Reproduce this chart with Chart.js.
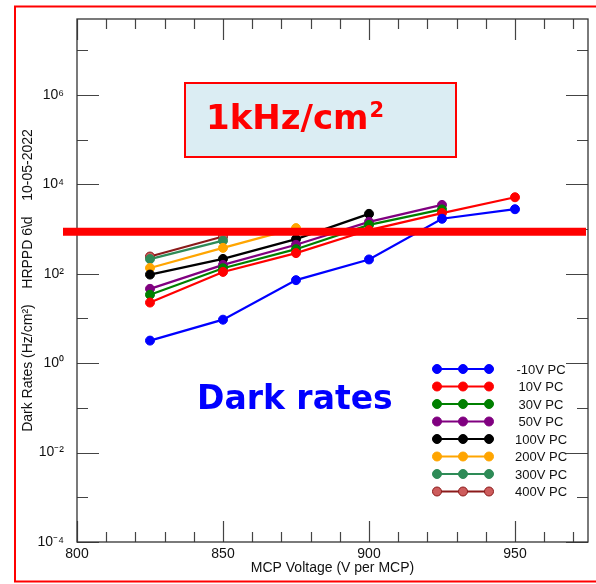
<!DOCTYPE html>
<html>
<head>
<meta charset="utf-8">
<script src="https://cdn.jsdelivr.net/npm/chart.js@4.4.0/dist/chart.umd.min.js"></script>
<style>
  html, body { margin: 0; padding: 0; background: #fff; }
  canvas { display: block; }
</style>
</head>
<body>
<canvas id="chart" width="596" height="584"></canvas>
<script>
// MCP voltage steps (V per MCP)
const voltages = [825, 850, 875, 900, 925, 950];

// Dark rates (Hz/cm2) per photocathode bias
const seriesLabels = ['-10V PC', '10V PC', '30V PC', '50V PC', '100V PC', '200V PC', '300V PC', '400V PC'];
const rateM10 = [3.2, 9.4, 72, 209, 1700, 2780];
const rate10 = [22.7, 110, 290, 950, 2280, 5150];
const rate30 = [34, 133, 355, 1240, 2750];
const rate50 = [46, 158, 445, 1450, 3470];
const rate100 = [96, 215, 595, 2190];
const rate200 = [135, 380, 1050];
const rate300 = [213, 550];
const rate400 = [243, 680];
const seriesValues = [rateM10, rate10, rate30, rate50, rate100, rate200, rate300, rate400];

// axis ticks
const xTickValues = [800, 810, 820, 830, 840, 850, 860, 870, 880, 890, 900, 910, 920, 930, 940, 950, 960, 970];
const yTickExponents = [-4, -3, -2, -1, 0, 1, 2, 3, 4, 5, 6, 7];

// the 1 kHz/cm2 marker line, as drawn on the slide
const thresholdRate = 870;

// styles
const lineColors = ['#0000ff', '#ff0000', '#008000', '#800080', '#000000', '#ffa500', '#2e8b57', '#8b1a1a'];
const pointFills = ['#0000ff', '#ff0000', '#008000', '#800080', '#000000', '#ffa500', '#2e8b57', '#cd5c5c'];

const SUP = { '-': '\u207B', '0': '\u2070', '1': '\u00B9', '2': '\u00B2', '3': '\u00B3', '4': '\u2074',
              '5': '\u2075', '6': '\u2076', '7': '\u2077', '8': '\u2078', '9': '\u2079' };
const sup = s => String(s).split('').map(c => SUP[c]).join('');

const datasets = seriesLabels.map((label, k) => ({
    label: label,
    data: seriesValues[k].map((y, i) => ({ x: voltages[i], y: y })),
    borderColor: lineColors[k],
    backgroundColor: pointFills[k],
    pointBackgroundColor: pointFills[k],
    pointBorderColor: lineColors[k],
    pointBorderWidth: 1,
    pointRadius: 4.5,
    borderWidth: 2.2,
    tension: 0
}));

const decorations = {
    id: 'decorations',
    beforeDatasetsDraw(chart) {
        const { ctx, chartArea: a, scales: { x, y } } = chart;
        ctx.save();
        ctx.strokeStyle = '#444';
        ctx.lineWidth = 1.2;
        ctx.beginPath();
        xTickValues.forEach(v => {
            const px = Math.round(x.getPixelForValue(v)) + 0.5;
            const len = v % 50 === 0 ? 21 : 10;
            ctx.moveTo(px, a.bottom); ctx.lineTo(px, a.bottom - len);
            ctx.moveTo(px, a.top); ctx.lineTo(px, a.top + len);
        });
        yTickExponents.forEach(e => {
            const py = Math.round(y.getPixelForValue(Math.pow(10, e))) + 0.5;
            const len = e % 2 === 0 ? 22 : 11;
            ctx.moveTo(a.left, py); ctx.lineTo(a.left + len, py);
            ctx.moveTo(a.right, py); ctx.lineTo(a.right - len, py);
        });
        ctx.stroke();
        // plot frame
        ctx.strokeStyle = '#333';
        ctx.lineWidth = 1.3;
        ctx.strokeRect(a.left, a.top, a.right - a.left, a.bottom - a.top);
        ctx.restore();
    },
    afterDatasetsDraw(chart) {
        const { ctx, chartArea: a, scales: { y } } = chart;
        const py = y.getPixelForValue(thresholdRate);
        ctx.save();
        ctx.strokeStyle = '#ff0000';
        ctx.lineWidth = 8;
        ctx.beginPath();
        ctx.moveTo(a.left - 14, py);
        ctx.lineTo(a.right - 2, py);
        ctx.stroke();
        ctx.restore();
    },
    afterDraw(chart) {
        const ctx = chart.ctx;
        ctx.save();
        // slide frame
        ctx.strokeStyle = '#ff0000';
        ctx.lineWidth = 2;
        ctx.strokeRect(15, 6.5, 600, 575);

        // 1kHz/cm2 label box
        ctx.fillStyle = '#dbedf3';
        ctx.fillRect(185, 83, 271, 74);
        ctx.strokeRect(185, 83, 271, 74);
        ctx.fillStyle = '#ff0000';
        ctx.textBaseline = 'alphabetic';
        ctx.textAlign = 'left';
        ctx.font = 'bold 34px "DejaVu Sans"';
        ctx.fillText('1kHz/cm', 206, 129);
        const w = ctx.measureText('1kHz/cm').width;
        ctx.font = 'bold 21px "DejaVu Sans"';
        ctx.fillText('2', 206 + w + 1, 117);

        // Dark rates
        ctx.fillStyle = '#0000ff';
        ctx.font = 'bold 33px "DejaVu Sans"';
        ctx.fillText('Dark rates', 197, 409);

        // legend
        ctx.font = '13px "Liberation Sans"';
        ctx.textAlign = 'center';
        ctx.textBaseline = 'middle';
        chart.data.datasets.forEach((ds, k) => {
            const ry = 369 + k * 17.5;
            ctx.strokeStyle = ds.borderColor;
            ctx.lineWidth = 2.2;
            ctx.beginPath();
            ctx.moveTo(437, ry); ctx.lineTo(489, ry);
            ctx.stroke();
            [437, 463, 489].forEach(cx => {
                ctx.beginPath();
                ctx.arc(cx, ry, 4.5, 0, Math.PI * 2);
                ctx.fillStyle = ds.pointBackgroundColor;
                ctx.fill();
                ctx.lineWidth = 1;
                ctx.strokeStyle = ds.pointBorderColor;
                ctx.stroke();
            });
            ctx.fillStyle = '#111';
            ctx.fillText(ds.label, 541, ry + 1);
        });
        ctx.restore();
    }
};

new Chart(document.getElementById('chart').getContext('2d'), {
    type: 'line',
    data: { datasets },
    options: {
        responsive: false,
        animation: false,
        layout: { padding: { left: 0, right: 8, top: 19, bottom: 0 } },
        plugins: {
            legend: { display: false },
            tooltip: { enabled: false }
        },
        scales: {
            x: {
                type: 'linear',
                min: 800,
                max: 975,
                afterFit: s => { s.height = 42; },
                afterBuildTicks: s => { s.ticks = xTickValues.map(v => ({ value: v })); },
                grid: { display: false },
                border: { display: false },
                ticks: {
                    autoSkip: false,
                    maxRotation: 0,
                    padding: -4,
                    color: '#111',
                    font: { family: '"Liberation Sans"', size: 14 },
                    callback: v => (v % 50 === 0 ? String(v) : '')
                },
                title: {
                    display: true,
                    text: 'MCP Voltage (V per MCP)',
                    color: '#111',
                    font: { family: '"Liberation Sans"', size: 14 },
                    padding: { top: 0, bottom: 7 }
                }
            },
            y: {
                type: 'logarithmic',
                min: 1e-4,
                max: 5e7,
                afterFit: s => { s.width = 77; },
                afterBuildTicks: s => { s.ticks = yTickExponents.map(e => ({ value: Math.pow(10, e) })); },
                grid: { display: false },
                border: { display: false },
                ticks: {
                    autoSkip: false,
                    padding: 5,
                    color: '#111',
                    font: { family: '"Liberation Sans"', size: 14 },
                    callback: v => {
                        const e = Math.round(Math.log10(v));
                        return e % 2 === 0 ? '10' + sup(e) : '';
                    }
                },
                title: {
                    display: true,
                    text: 'Dark Rates (Hz/cm\u00B2)    HRPPD 6\\d    10-05-2022',
                    color: '#111',
                    font: { family: '"Liberation Sans"', size: 14 },
                    padding: { top: 20, bottom: 0 }
                }
            }
        }
    },
    plugins: [decorations]
});
</script>
</body>
</html>
